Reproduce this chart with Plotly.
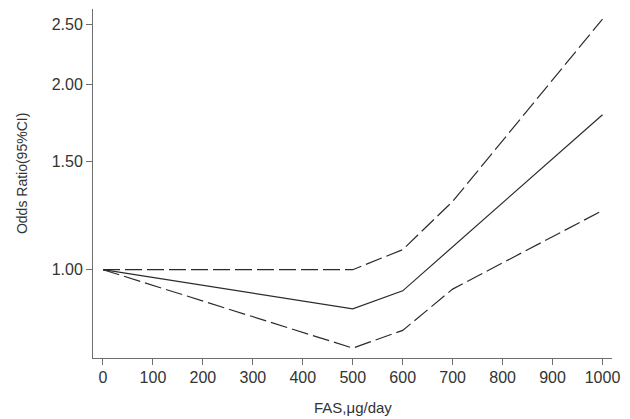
import plotly.graph_objects as go

fas = [0, 500, 600, 700, 1000]
odds_ratio = [1.00, 0.864, 0.924, 1.09, 1.785]
upper_ci = [1.00, 1.00, 1.078, 1.291, 2.553]
lower_ci = [1.00, 0.746, 0.797, 0.930, 1.248]

x_ticks = [0, 100, 200, 300, 400, 500, 600, 700, 800, 900, 1000]
y_ticks = [1.0, 1.5, 2.0, 2.5]
y_tick_text = ["1.00", "1.50", "2.00", "2.50"]

line_col = "#2b2b2b"
axis_col = "#6e6e6e"
family = "Liberation Sans, Arial, sans-serif"
tick_font = dict(family=family, size=16, color="#333333")
font = dict(family=family, size=15, color="#333333")

fig = go.Figure()
fig.add_trace(go.Scatter(x=fas, y=upper_ci, mode="lines",
                         line=dict(color=line_col, width=1.2, dash="17px,5px")))
fig.add_trace(go.Scatter(x=fas, y=odds_ratio, mode="lines",
                         line=dict(color=line_col, width=1.2)))
fig.add_trace(go.Scatter(x=fas, y=lower_ci, mode="lines",
                         line=dict(color=line_col, width=1.2, dash="17px,5px")))

fig.update_layout(
    width=630, height=419,
    margin=dict(l=92.7, r=17.7, t=9.3, b=60.7),
    paper_bgcolor="white", plot_bgcolor="white",
    showlegend=False,
    font=font,
    xaxis=dict(range=[-20, 1019], tickvals=x_ticks, showgrid=False, zeroline=False,
               showline=True, linecolor=axis_col, linewidth=1,
               ticks="outside", ticklen=6, tickcolor=axis_col, tickfont=tick_font,
               ticklabelstandoff=-1),
    yaxis=dict(type="log", range=[-0.1434, 0.4234], tickvals=y_ticks, ticktext=y_tick_text,
               showgrid=False, zeroline=False, showline=True, linecolor=axis_col, linewidth=1,
               ticks="outside", ticklen=6, tickcolor=axis_col, tickfont=tick_font),
    annotations=[
        dict(text="FAS,μg/day", xref="paper", yref="paper", x=0.5, y=-0.142,
             xanchor="center", yanchor="middle", showarrow=False, font=font),
        dict(text="Odds Ratio(95%CI)", xref="paper", yref="paper",
             x=(21 - 92.7) / 519.6, y=(358.3 - 174) / 349, textangle=-90,
             xanchor="center", yanchor="middle", showarrow=False,
             font=dict(family=family, size=14, color="#333333")),
    ],
)

fig.write_html("out.html")
